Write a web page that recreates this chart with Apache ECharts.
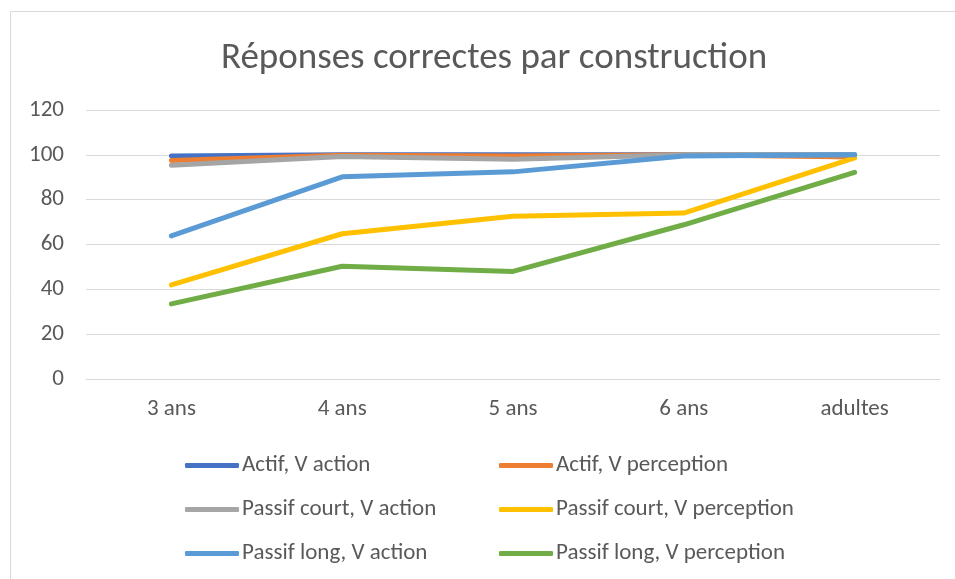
<!DOCTYPE html>
<html>
<head>
<meta charset="utf-8">
<script src="https://cdn.jsdelivr.net/npm/echarts@6/dist/echarts.min.js"></script>
<style>
html,body{margin:0;padding:0;background:#fff;}
#chart{width:955px;height:579px;}
</style>
</head>
<body>
<div id="chart"></div>
<script>
var categories = ['3 ans', '4 ans', '5 ans', '6 ans', 'adultes'];
var actifAction = [99.5, 100, 100, 100, 100];
var actifPerception = [97.5, 99.8, 99.5, 100, 99];
var passifCourtAction = [95.3, 99.3, 98, 100, 100];
var passifCourtPerception = [42, 64.8, 72.6, 74, 98.6];
var passifLongAction = [63.8, 90.2, 92.4, 99.5, 100];
var passifLongPerception = [33.5, 50.3, 48, 68.8, 92.2];
var seriesNames = ['Actif, V action', 'Actif, V perception', 'Passif court, V action', 'Passif court, V perception', 'Passif long, V action', 'Passif long, V perception'];
var seriesColors = ['#4472C4', '#ED7D31', '#A5A5A5', '#FFC000', '#5B9BD5', '#70AD47'];
var seriesData = [actifAction, actifPerception, passifCourtAction, passifCourtPerception, passifLongAction, passifLongPerception];

var font = 'Calibri, Carlito, "Liberation Sans", Arial, sans-serif';
var chart = echarts.init(document.getElementById('chart'), null, {renderer: 'canvas'});

var series = seriesNames.map(function (n, i) {
  return {
    name: n,
    type: 'line',
    data: seriesData[i],
    symbol: 'none',
    lineStyle: {width: 5, color: seriesColors[i], cap: 'round', join: 'round'},
    itemStyle: {color: seriesColors[i]},
    z: 2 + i
  };
});

function legendCfg(left, names) {
  return {
    orient: 'vertical',
    left: left,
    top: 449,
    itemGap: 21,
    itemWidth: 54,
    itemHeight: 5,
    icon: 'roundRect',
    data: names,
    textStyle: {fontFamily: font, fontSize: 23, color: '#595959', padding: [0, 0, 0, -2]}
  };
}

chart.setOption({
  animation: false,
  backgroundColor: '#fff',
  title: {
    text: 'Réponses correctes par construction',
    left: 216,
    top: 35,
    textStyle: {fontFamily: font, fontSize: 37, fontWeight: 'normal', color: '#595959'}
  },
  graphic: [{
    type: 'rect',
    shape: {x: 10.5, y: 11.5, width: 1000, height: 1000},
    style: {fill: 'none', stroke: '#D9D9D9', lineWidth: 1},
    silent: true
  }],
  legend: [
    legendCfg(180, [seriesNames[0], seriesNames[2], seriesNames[4]]),
    legendCfg(494, [seriesNames[1], seriesNames[3], seriesNames[5]])
  ],
  grid: {left: 86, right: 15, top: 110, bottom: 200, containLabel: false},
  xAxis: {
    type: 'category',
    data: categories,
    boundaryGap: true,
    axisLine: {lineStyle: {color: '#D9D9D9', width: 1}},
    axisTick: {show: false},
    axisLabel: {fontFamily: font, fontSize: 23, color: '#595959', margin: 19}
  },
  yAxis: {
    type: 'value',
    min: 0,
    max: 120,
    interval: 20,
    axisLine: {show: false},
    axisTick: {show: false},
    splitLine: {lineStyle: {color: '#D9D9D9', width: 1}},
    axisLabel: {fontFamily: font, fontSize: 23, color: '#595959', margin: 22}
  },
  series: series
});
</script>
</body>
</html>
